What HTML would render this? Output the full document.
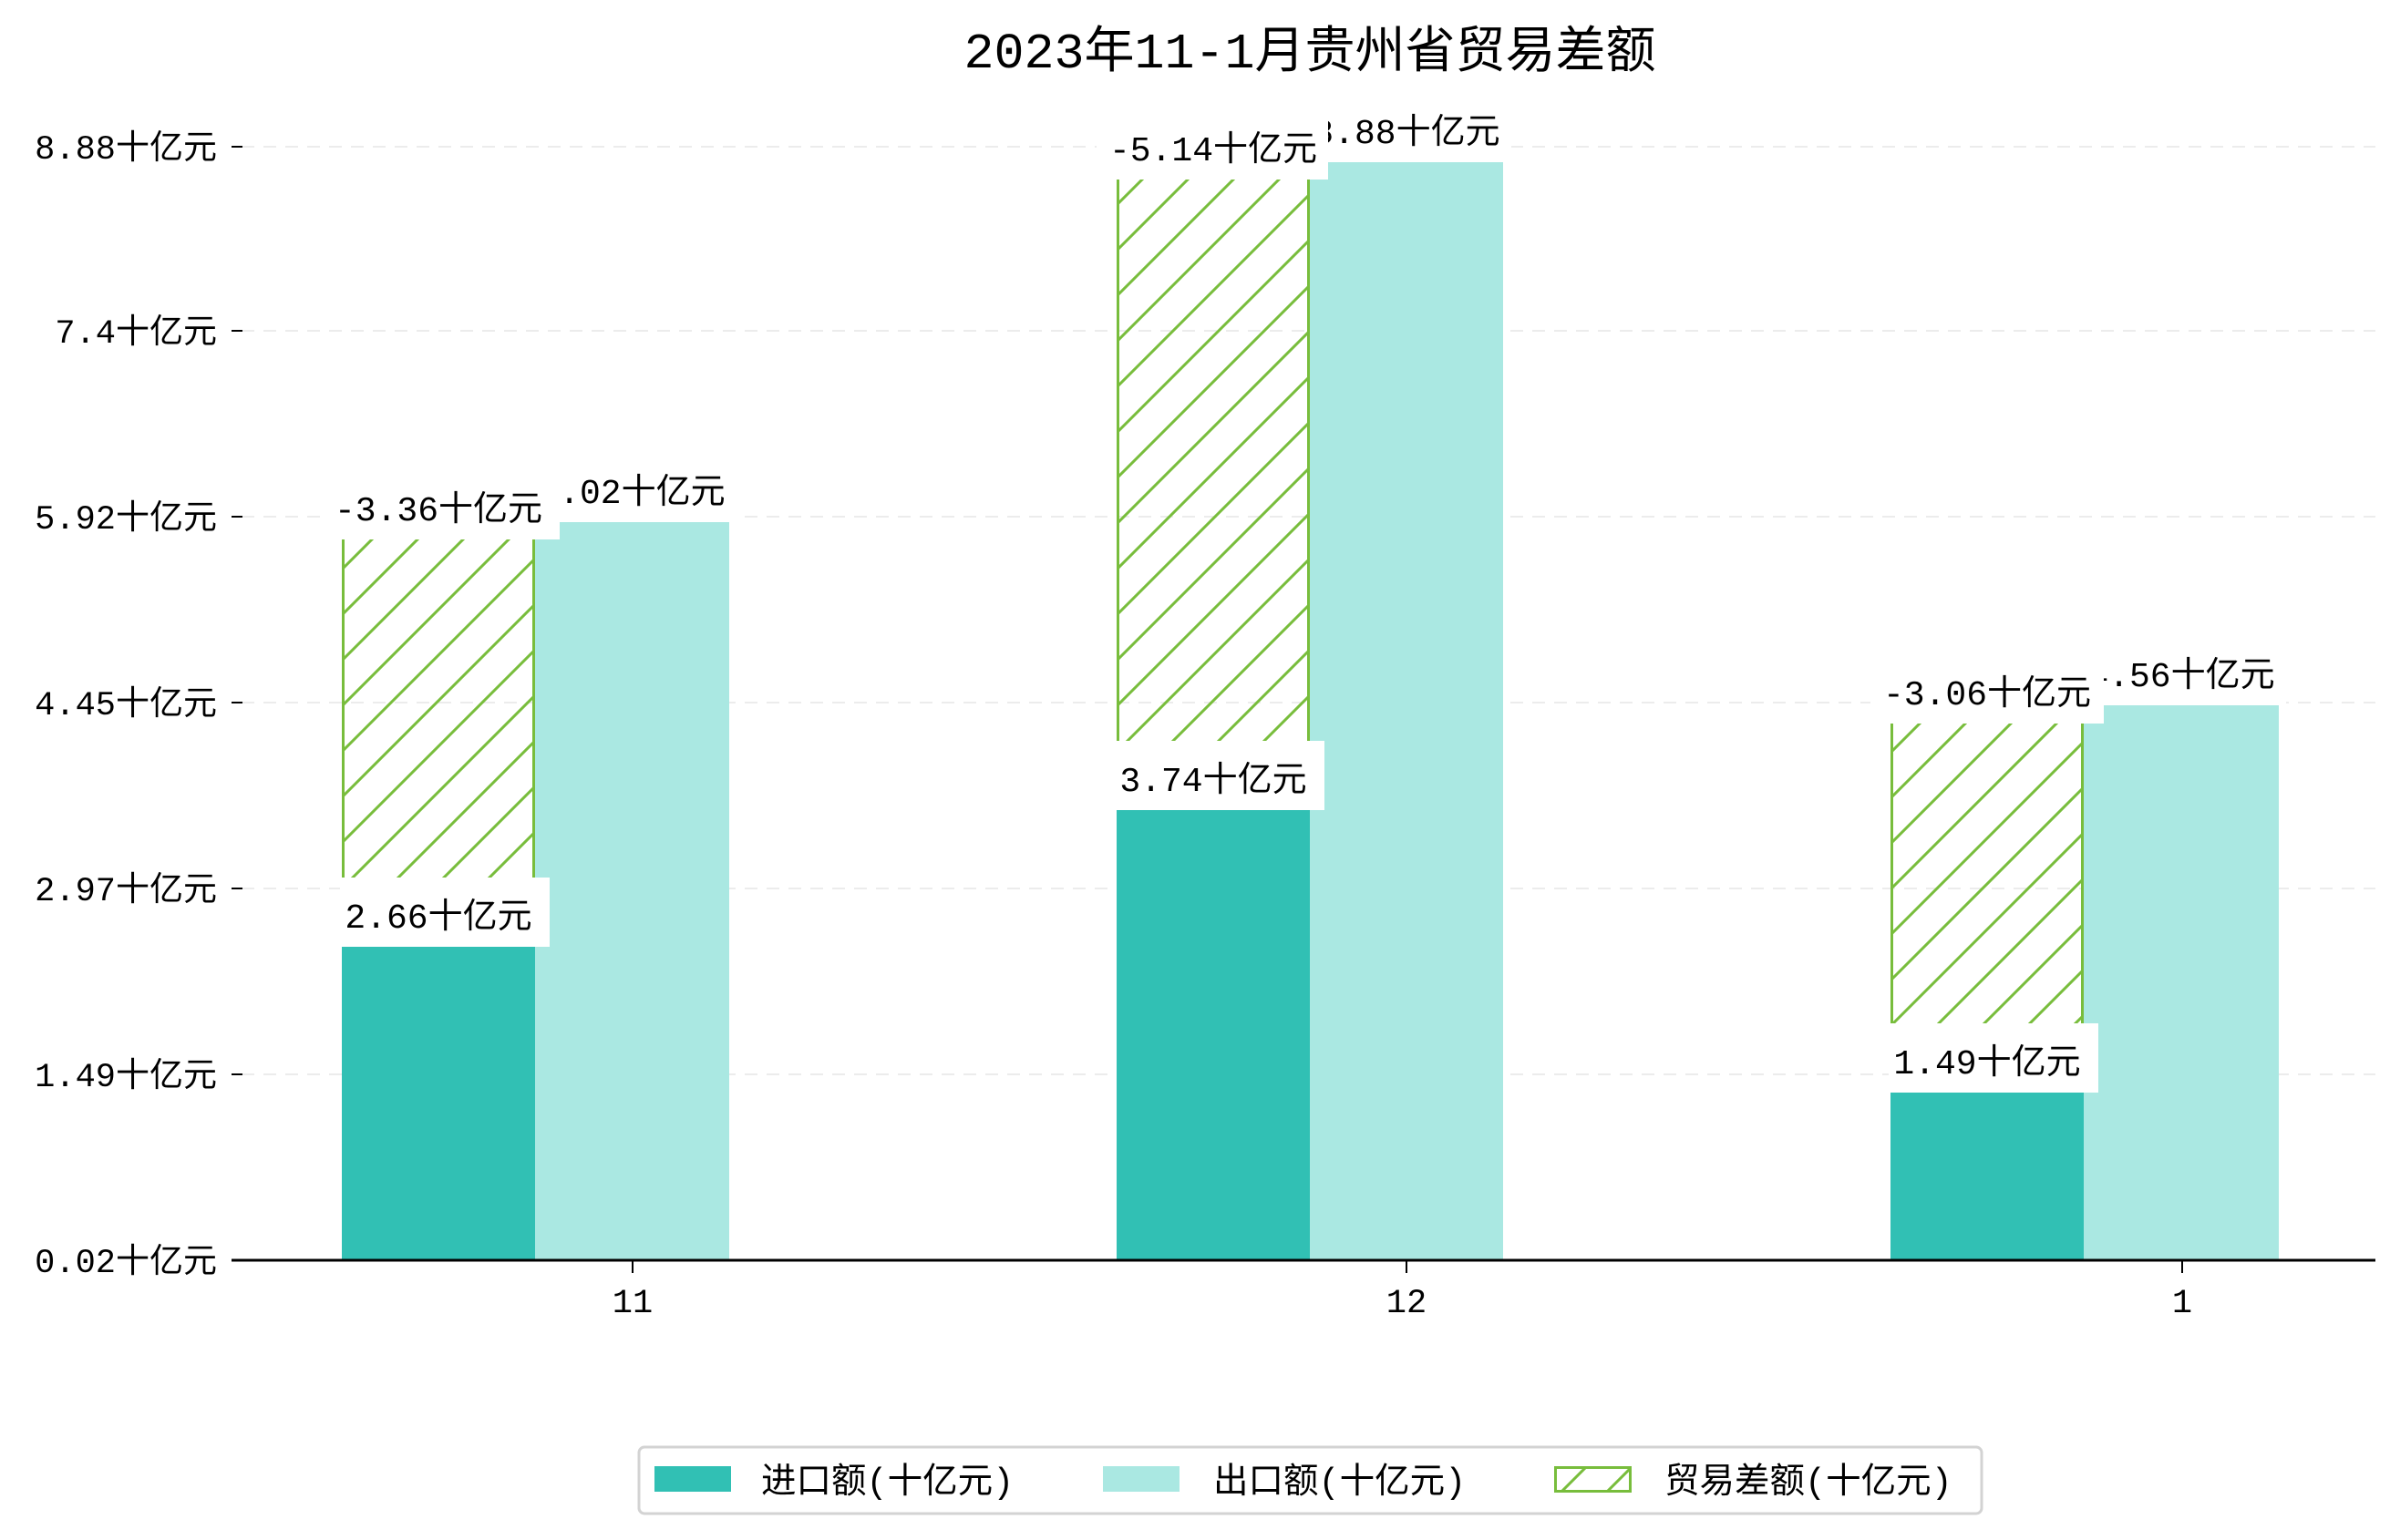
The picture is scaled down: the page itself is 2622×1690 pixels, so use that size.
<!DOCTYPE html>
<html><head><meta charset="utf-8"><style>
html,body{margin:0;padding:0;background:#fff;}
svg{display:block;font-family:"Liberation Mono","Noto Sans CJK SC",monospace;}
</style></head><body>
<svg width="2622" height="1690" viewBox="0 0 2622 1690" xmlns="http://www.w3.org/2000/svg">
<defs>
<pattern id="h" patternUnits="userSpaceOnUse" width="50" height="50">
<path d="M-5,55 L55,-5 M-5,5 L5,-5 M45,55 L55,45" stroke="#78bd3c" stroke-width="3"/>
</pattern>
</defs>
<text x="1437" y="74" font-size="55" text-anchor="middle" fill="#000">2023年11-1月贵州省贸易差额</text>
<g stroke="#ececec" stroke-width="2" stroke-dasharray="14,10">
<line x1="265" y1="161" x2="2606" y2="161"/><line x1="265" y1="363" x2="2606" y2="363"/>
<line x1="265" y1="567" x2="2606" y2="567"/><line x1="265" y1="771" x2="2606" y2="771"/>
<line x1="265" y1="975" x2="2606" y2="975"/><line x1="265" y1="1179" x2="2606" y2="1179"/>
</g>
<g stroke="#000" stroke-width="2">
<line x1="254" y1="161" x2="266" y2="161"/><line x1="254" y1="363" x2="266" y2="363"/>
<line x1="254" y1="567" x2="266" y2="567"/><line x1="254" y1="771" x2="266" y2="771"/>
<line x1="254" y1="975" x2="266" y2="975"/><line x1="254" y1="1179" x2="266" y2="1179"/>
</g>
<g font-size="37" text-anchor="end" fill="#000">
<text x="238" y="174">8.88十亿元</text><text x="238" y="376">7.4十亿元</text>
<text x="238" y="580">5.92十亿元</text><text x="238" y="784">4.45十亿元</text>
<text x="238" y="988">2.97十亿元</text><text x="238" y="1192">1.49十亿元</text>
<text x="238" y="1396">0.02十亿元</text>
</g>
<g>
<rect x="375" y="1039" width="212" height="344" fill="#31c0b4"/>
<rect x="587" y="573" width="213" height="810" fill="#aae8e2"/>
<rect x="375" y="592" width="212" height="447" fill="url(#h)"/>
<line x1="376.5" y1="592" x2="376.5" y2="1039" stroke="#78bd3c" stroke-width="3"/>
<line x1="585.5" y1="592" x2="585.5" y2="1039" stroke="#78bd3c" stroke-width="3"/>

<rect x="1225" y="889" width="212" height="494" fill="#31c0b4"/>
<rect x="1437" y="178" width="212" height="1205" fill="#aae8e2"/>
<rect x="1225" y="197" width="212" height="692" fill="url(#h)"/>
<line x1="1226.5" y1="197" x2="1226.5" y2="889" stroke="#78bd3c" stroke-width="3"/>
<line x1="1435.5" y1="197" x2="1435.5" y2="889" stroke="#78bd3c" stroke-width="3"/>

<rect x="2074" y="1199" width="212" height="184" fill="#31c0b4"/>
<rect x="2286" y="774" width="214" height="609" fill="#aae8e2"/>
<rect x="2074" y="794" width="212" height="405" fill="url(#h)"/>
<line x1="2075.5" y1="794" x2="2075.5" y2="1199" stroke="#78bd3c" stroke-width="3"/>
<line x1="2284.5" y1="794" x2="2284.5" y2="1199" stroke="#78bd3c" stroke-width="3"/>
</g>
<g font-size="38" text-anchor="middle" fill="#000">
<rect x="373" y="963" width="230" height="76" fill="#fff"/><text x="481" y="1018">2.66十亿元</text>
<rect x="578" y="497" width="230" height="76" fill="#fff"/><text x="693" y="552">6.02十亿元</text>
<rect x="356" y="516" width="258" height="76" fill="#fff"/><text x="481" y="571">-3.36十亿元</text>

<rect x="1223" y="813" width="230" height="76" fill="#fff"/><text x="1331" y="868">3.74十亿元</text>
<rect x="1428" y="102" width="230" height="76" fill="#fff"/><text x="1543" y="157">8.88十亿元</text>
<rect x="1203" y="121" width="254" height="76" fill="#fff"/><text x="1331" y="176">-5.14十亿元</text>

<rect x="2072" y="1123" width="230" height="76" fill="#fff"/><text x="2180" y="1178">1.49十亿元</text>
<rect x="2278" y="698" width="230" height="76" fill="#fff"/><text x="2393" y="753">4.56十亿元</text>
<rect x="2052" y="718" width="256" height="76" fill="#fff"/><text x="2180" y="773">-3.06十亿元</text>
</g>
<line x1="254" y1="1383" x2="2606" y2="1383" stroke="#000" stroke-width="3"/>
<g stroke="#000" stroke-width="2">
<line x1="694" y1="1383" x2="694" y2="1397"/><line x1="1543" y1="1383" x2="1543" y2="1397"/><line x1="2394" y1="1383" x2="2394" y2="1397"/>
</g>
<g font-size="37" text-anchor="middle" fill="#000">
<text x="694" y="1440">11</text><text x="1543" y="1440">12</text><text x="2394" y="1440">1</text>
</g>
<rect x="701" y="1588" width="1473" height="73" rx="6" fill="#fff" stroke="#d3d3d3" stroke-width="3"/>
<rect x="718" y="1609" width="84" height="28" fill="#31c0b4"/>
<rect x="1210" y="1609" width="84" height="28" fill="#aae8e2"/>
<rect x="1706.5" y="1610.5" width="82" height="26" fill="url(#h)" stroke="#78bd3c" stroke-width="3"/>
<g font-size="38.5" fill="#000">
<text x="835" y="1638">进口额(十亿元)</text>
<text x="1331" y="1638">出口额(十亿元)</text>
<text x="1826" y="1638">贸易差额(十亿元)</text>
</g>
</svg>
</body></html>
